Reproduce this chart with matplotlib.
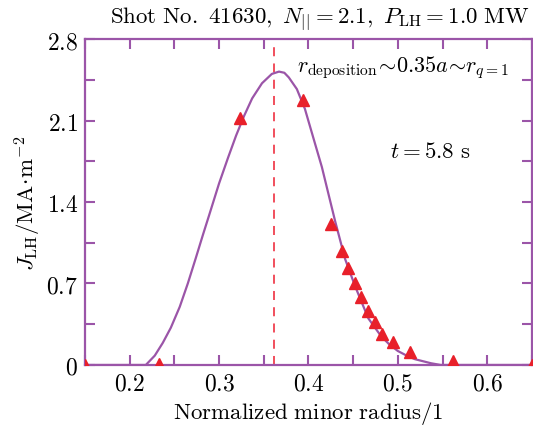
import numpy as np
import matplotlib.pyplot as plt
from matplotlib.ticker import MultipleLocator, FixedLocator

plt.rcParams['mathtext.fontset'] = 'cm'
plt.rcParams['font.family'] = 'serif'
plt.rcParams['font.serif'] = ['DejaVu Serif']

# measured points (triangles)
r_meas = [0.150, 0.233, 0.323, 0.394, 0.425, 0.437, 0.444, 0.452, 0.459,
          0.467, 0.474, 0.482, 0.495, 0.514, 0.562, 0.650]
j_meas = [0.00, 0.01, 2.12, 2.28, 1.21, 0.98, 0.83, 0.70, 0.58,
          0.46, 0.37, 0.27, 0.20, 0.11, 0.03, 0.00]

# simulated profile (line)
r_sim = [0.150, 0.218, 0.228, 0.237, 0.246, 0.256, 0.265, 0.274, 0.282,
         0.289, 0.300, 0.310, 0.319, 0.328, 0.337, 0.348, 0.359, 0.367,
         0.373, 0.378, 0.387, 0.396, 0.407, 0.415, 0.422, 0.430, 0.441,
         0.452, 0.460, 0.467, 0.481, 0.490, 0.500, 0.510, 0.519, 0.537,
         0.548, 0.650]
j_sim = [0.00, 0.00, 0.08, 0.19, 0.32, 0.50, 0.70, 0.92, 1.12,
         1.29, 1.56, 1.78, 1.97, 2.14, 2.29, 2.42, 2.50, 2.52,
         2.51, 2.47, 2.37, 2.20, 1.91, 1.70, 1.48, 1.23, 0.91,
         0.68, 0.53, 0.40, 0.25, 0.18, 0.12, 0.08, 0.05, 0.015,
         0.00, 0.00]

r_dep = 0.361

xticks = [0.2, 0.3, 0.4, 0.5, 0.6]
yticks = [0, 0.7, 1.4, 2.1, 2.8]

purple = '#9b55a8'

fig = plt.figure(figsize=(5.33, 4.27), dpi=100)
ax = fig.add_axes([0.1595, 0.1429, 0.8385, 0.7634])

ax.plot(r_sim, j_sim, color=purple, lw=1.6, zorder=2)
ax.plot(r_meas, j_meas, '^', color='#e8202a', ms=8, mec='#e8202a',
        clip_on=True, zorder=3)
ax.axvline(r_dep, color='#f0404f', ls=(0, (5, 4)), lw=1.3, zorder=1)

ax.set_xlim(0.15, 0.65)
ax.set_ylim(0, 2.8)
ax.xaxis.set_major_locator(FixedLocator(xticks))
ax.yaxis.set_major_locator(FixedLocator(yticks))
ax.xaxis.set_minor_locator(MultipleLocator(0.05))
ax.yaxis.set_minor_locator(MultipleLocator(0.35))
ax.set_xticklabels([f'${v:g}$' for v in xticks])
ax.set_yticklabels([f'${v:g}$' for v in yticks])

for s in ax.spines.values():
    s.set_color(purple)
    s.set_linewidth(1.6)
ax.tick_params(which='both', direction='in', top=True, right=True,
               color=purple, width=1.5, labelsize=17)
ax.tick_params(which='major', length=7, pad=5)
ax.tick_params(which='minor', length=7)

ax.set_xlabel(r'$\mathrm{Normalized\ minor\ radius/1}$', fontsize=16.5, labelpad=3)
ax.set_ylabel(r'$J_{\rm LH}/{\rm MA\!\cdot\! m^{-2}}$', fontsize=16.5, labelpad=2)

ax.text(0.995, 1.02, r'$\mathrm{Shot\ No.\ 41630,}\ N_{||}=2.1,\ P_{\rm LH}=1.0\ \mathrm{MW}$',
        transform=ax.transAxes, ha='right', va='bottom', fontsize=16.5)
ax.text(0.474, 0.915, r'$r_{\rm deposition}\!\sim\!0.35a\!\sim\!r_{q=1}$',
        transform=ax.transAxes, ha='left', va='center', fontsize=16)
ax.text(0.683, 0.655, r'$t=5.8\ \mathrm{s}$', transform=ax.transAxes,
        ha='left', va='center', fontsize=16.5)

fig.savefig('out.png', dpi=100)
